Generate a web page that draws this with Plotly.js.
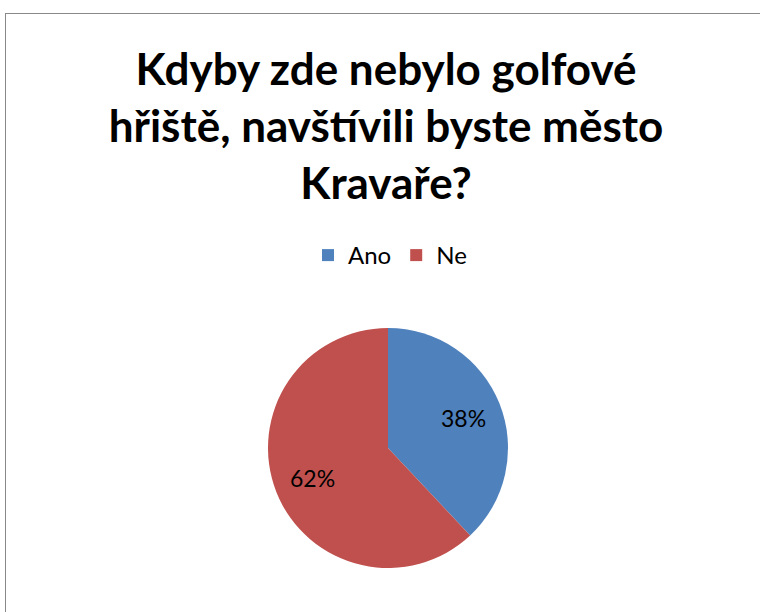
<!DOCTYPE html>
<html>
<head>
<meta charset="utf-8">
<script src="https://cdn.plot.ly/plotly-3.0.1.min.js"></script>
<style>
html,body{margin:0;padding:0;background:#fff;}
#wrap{position:relative;width:760px;height:612px;overflow:hidden;}
#frame{position:absolute;left:5px;top:13px;width:800px;height:700px;border:1.5px solid #898989;box-sizing:border-box;}
#chart{position:absolute;left:0;top:0;width:760px;height:612px;}
</style>
</head>
<body>
<div id="wrap"><div id="frame"></div><div id="chart"></div></div>
<script>
var categories = ["Ano", "Ne"];
var values = [38, 62];
var colors = ["#4F81BD", "#C0504D"];
var titleText = "Kdyby zde nebylo golfové<br>hřiště, navštívili byste město<br>Kravaře?";

var W = 760, H = 612;
var cx = 388, cy = 448, R = 120;
var FONT = "Lato, 'Open Sans', sans-serif";

var trace = {
  type: "pie",
  labels: categories,
  values: values,
  sort: false,
  direction: "clockwise",
  rotation: 0,
  marker: {colors: colors, line: {width: 0}},
  textinfo: "none",
  hoverinfo: "none",
  domain: {x: [(cx - R) / W, (cx + R) / W], y: [1 - (cy + R) / H, 1 - (cy - R) / H]}
};

// percentage labels placed at each slice's mid-angle
var total = values.reduce(function (a, b) { return a + b; }, 0);
var annotations = [];
var acc = 0;
values.forEach(function (v) {
  var mid = (acc + v / 2) / total * 2 * Math.PI;
  acc += v;
  var r = 0.68 * R;
  var px = cx + r * Math.sin(mid);
  var py = cy - r * Math.cos(mid);
  annotations.push({
    xref: "paper", yref: "paper",
    x: px / W, y: 1 - py / H,
    xanchor: "center", yanchor: "middle",
    showarrow: false,
    text: Math.round(v / total * 100) + "%",
    font: {family: FONT, size: 23, color: "#000"}
  });
});

var layout = {
  width: W, height: H,
  margin: {l: 0, r: 0, t: 0, b: 0},
  paper_bgcolor: "rgba(0,0,0,0)",
  plot_bgcolor: "rgba(0,0,0,0)",
  font: {family: FONT, color: "#000"},
  title: {
    text: "<b>" + titleText + "</b>",
    font: {family: FONT, size: 44, color: "#000"},
    x: 386 / W, xanchor: "center",
    y: 1 - 85 / H, yanchor: "top"
  },
  annotations: annotations,
  showlegend: true,
  legend: {
    orientation: "h",
    x: 390 / W, xanchor: "center",
    y: 1 - 233 / H, yanchor: "top",
    font: {family: FONT, size: 24, color: "#000"},
    itemwidth: 30,
    bgcolor: "rgba(0,0,0,0)"
  }
};

Plotly.newPlot("chart", [trace], layout, {displayModeBar: false, staticPlot: true});
</script>
</body>
</html>
